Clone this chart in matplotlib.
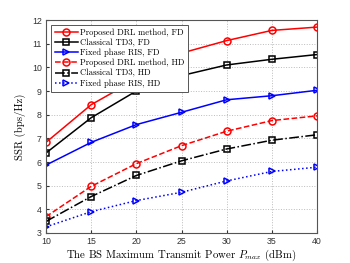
import numpy as np
import matplotlib
matplotlib.use('Agg')
import matplotlib.pyplot as plt

p_max = [10, 15, 20, 25, 30, 35, 40]

drl_fd = [6.83, 8.42, 9.5, 10.6, 11.13, 11.56, 11.7]
td3_fd = [6.38, 7.87, 9.0, 9.65, 10.1, 10.34, 10.54]
fix_fd = [5.87, 6.83, 7.58, 8.1, 8.63, 8.8, 9.03]
drl_hd = [3.69, 4.97, 5.93, 6.69, 7.3, 7.75, 7.95]
td3_hd = [3.49, 4.54, 5.43, 6.05, 6.55, 6.92, 7.15]
fix_hd = [3.26, 3.9, 4.37, 4.72, 5.2, 5.6, 5.78]

labels = ['Proposed DRL method, FD', 'Classical TD3, FD', 'Fixed phase RIS, FD',
          'Proposed DRL method, HD', 'Classical TD3, HD', 'Fixed phase RIS, HD']

plt.rcParams['mathtext.fontset'] = 'cm'
plt.rcParams['axes.unicode_minus'] = False

fig = plt.figure(figsize=(3.5, 2.63), dpi=100)
ax = fig.add_axes([46/350, 30/263, 271/350, 213/263])

mk = dict(markersize=5, markerfacecolor='none', markeredgewidth=1.1, linewidth=1.1)
ax.plot(p_max, drl_fd, '-o', color='red', label=labels[0], **mk)
ax.plot(p_max, td3_fd, '-s', color='black', label=labels[1], **mk)
ax.plot(p_max, fix_fd, '->', color='blue', label=labels[2], **mk)
ax.plot(p_max, drl_hd, '--o', color='red', label=labels[3], **mk)
ax.plot(p_max, td3_hd, '-.s', color='black', label=labels[4], **mk)
ax.plot(p_max, fix_hd, ':>', color='blue', label=labels[5], **mk)

ax.set_xlim(10, 40)
ax.set_ylim(3, 12)
ax.set_xticks(p_max)
ax.set_yticks(range(3, 13))
ax.tick_params(labelsize=6.3, length=2, direction='in', colors='#333333')
ax.tick_params(axis='x', pad=3)
ax.tick_params(axis='y', pad=3)
for t in ax.get_xticklabels() + ax.get_yticklabels():
    t.set_family('Liberation Sans')
ax.grid(True, linestyle=':', color='#bbbbbb', linewidth=0.7)
for s in ax.spines.values():
    s.set_color('#555555')
    s.set_linewidth(0.8)

ax.set_xlabel(r'The BS Maximum Transmit Power $P_{max}$ (dBm)', family='cmr10', fontsize=7.8, labelpad=1)
ax.set_ylabel('SSR (bps/Hz)', family='cmr10', fontsize=7.8, labelpad=4)

leg = ax.legend(loc='upper left', prop={'family': 'cmr10', 'size': 6.2},
                fancybox=False, edgecolor='#555555', framealpha=1,
                handlelength=2.7, borderpad=0.45, labelspacing=0.2, handletextpad=0.25,
                borderaxespad=0.55)
leg.get_frame().set_linewidth(0.7)

plt.savefig('out.png', dpi=100)
